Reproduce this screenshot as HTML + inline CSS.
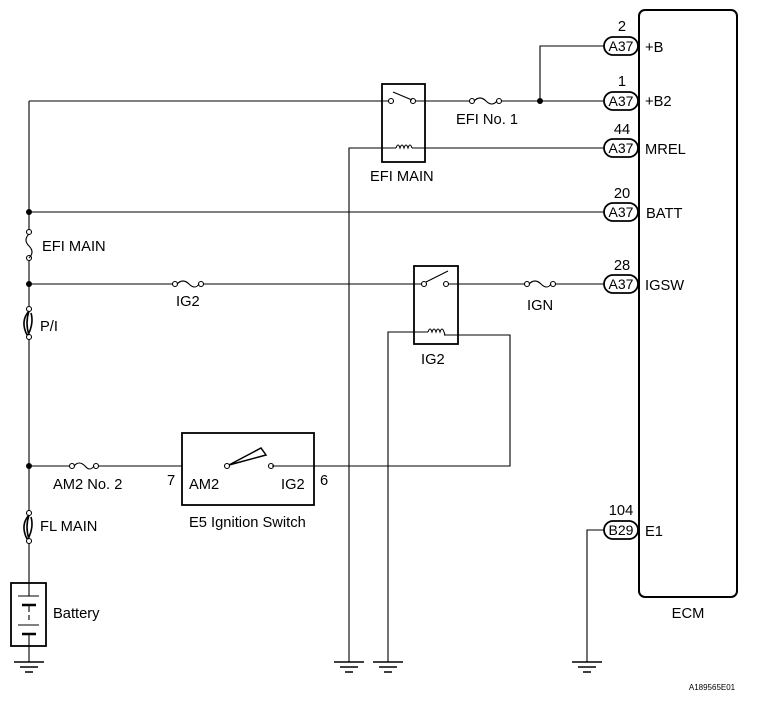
<!DOCTYPE html>
<html><head><meta charset="utf-8"><style>
html,body{margin:0;padding:0;background:#fff;}
svg{display:block;font-family:"Liberation Sans",Arial,sans-serif;}
</style></head><body>
<svg width="772" height="704" viewBox="0 0 772 704" xmlns="http://www.w3.org/2000/svg">
<g stroke="#000" stroke-width="1.1" fill="none">
<path d="M29 101 V232 M29 258 V309 M29 337 V512 M29 541 V583 M29 646 V662"/>
<path d="M29 101 H391"/>
<path d="M413 101 H470 M501 101 H604"/>
<path d="M540 101 V46 H604"/>
<rect x="382" y="84" width="43" height="78" stroke-width="1.8"/>
<circle cx="391" cy="101" r="2.5" fill="#fff"/>
<circle cx="413" cy="101" r="2.5" fill="#fff"/>
<path d="M393 92 L412 100"/>
<path d="M349 662 V148 H396 M412 148 H604"/>
<path d="M396 148 q2 -6 4 0 q2 -6 4 0 q2 -6 4 0 q2 -6 4 0" />
<circle cx="472" cy="101" r="2.5" fill="#fff"/><circle cx="499" cy="101" r="2.5" fill="#fff"/>
<path d="M474 101 q6 -6 12 0 q6 6 11 0"/>
<path d="M29 212 H604"/>
<circle cx="29" cy="232" r="2.5" fill="#fff"/><circle cx="29" cy="258" r="2.5" fill="#fff"/>
<path d="M29 234 q-6 6 0 12 q6 6 0 12"/>
<path d="M29 284 H173 M203 284 H424 M446 284 H525 M555 284 H604"/>
<circle cx="175" cy="284" r="2.5" fill="#fff"/><circle cx="201" cy="284" r="2.5" fill="#fff"/>
<path d="M177 284 q6 -6 12 0 q6 6 10 0"/>
<circle cx="527" cy="284" r="2.5" fill="#fff"/><circle cx="553" cy="284" r="2.5" fill="#fff"/>
<path d="M529 284 q6 -6 12 0 q6 6 10 0"/>
<rect x="414" y="266" width="44" height="78" stroke-width="1.8"/>
<circle cx="424" cy="284" r="2.5" fill="#fff"/><circle cx="446" cy="284" r="2.5" fill="#fff"/>
<path d="M426 282 L448 271"/>
<path d="M388 662 V332 H428 M444 335 H510 V466 H272"/>
<path d="M428 332 q2 -6 4 0 q2 -6 4 0 q2 -6 4 0 q2 -6 4 0 l1 3"/>
<circle cx="29" cy="309" r="2.5" fill="#fff"/><circle cx="29" cy="337" r="2.5" fill="#fff"/>
<path d="M29 311 q-9 10 -2 24 M29 311 q-4 12 0 24 M31 313 q3 10 -3 22" stroke-width="1.6"/>
<path d="M29 466 H70 M97 466 H182"/>
<circle cx="72" cy="466" r="2.5" fill="#fff"/><circle cx="96" cy="466" r="2.5" fill="#fff"/>
<path d="M74 466 q5 -6 11 0 q5 6 9 0"/>
<rect x="182" y="433" width="132" height="72" stroke-width="1.8"/>
<circle cx="227" cy="466" r="2.5" fill="#fff"/><circle cx="271" cy="466" r="2.5" fill="#fff"/>
<path d="M229 465 L261 448 L266 455 Z" stroke-width="1.5"/>
<path d="M314 466 H272"/>
<circle cx="29" cy="513" r="2.5" fill="#fff"/><circle cx="29" cy="541" r="2.5" fill="#fff"/>
<path d="M29 515 q-9 10 -2 24 M29 515 q-4 12 0 24 M31 517 q3 10 -3 22" stroke-width="1.6"/>
<rect x="11" y="583" width="35" height="63" stroke-width="1.8"/>
<path d="M29 583 V596 M18 596 H39 M29 605 V612 M29 615 V620 M18 625 H39 M29 634 V646" />
<path d="M22 605 H36 M22 634 H36" stroke-width="2.5"/>
<rect x="639" y="10" width="98" height="587" rx="6" stroke-width="2"/>
<path d="M604 530 H587 V662"/>
<g stroke-width="1.6">
<path d="M14 662 H44 M20 667 H38 M25 672 H33"/>
<path d="M334 662 H364 M340 667 H358 M345 672 H353"/>
<path d="M373 662 H403 M379 667 H397 M384 672 H392"/>
<path d="M572 662 H602 M578 667 H596 M583 672 H591"/>
</g>
<g stroke-width="1.8" fill="#fff">
<rect x="604" y="37" width="34" height="18" rx="9"/>
<rect x="604" y="92" width="34" height="18" rx="9"/>
<rect x="604" y="139" width="34" height="18" rx="9"/>
<rect x="604" y="203" width="34" height="18" rx="9"/>
<rect x="604" y="275" width="34" height="18" rx="9"/>
<rect x="604" y="521" width="34" height="18" rx="9"/>
</g>
</g>
<g fill="#000">
<circle cx="540" cy="101" r="3"/>
<circle cx="29" cy="212" r="3"/>
<circle cx="29" cy="284" r="3"/>
<circle cx="29" cy="466" r="3"/>
</g>
<g font-size="14.7" fill="#000">
<g font-size="14">
<text x="621" y="51" text-anchor="middle">A37</text>
<text x="621" y="106" text-anchor="middle">A37</text>
<text x="621" y="153" text-anchor="middle">A37</text>
<text x="621" y="217" text-anchor="middle">A37</text>
<text x="621" y="289" text-anchor="middle">A37</text>
<text x="621" y="535" text-anchor="middle">B29</text>
</g>
<text x="622" y="31" text-anchor="middle">2</text>
<text x="622" y="86" text-anchor="middle">1</text>
<text x="622" y="134" text-anchor="middle">44</text>
<text x="622" y="198" text-anchor="middle">20</text>
<text x="622" y="270" text-anchor="middle">28</text>
<text x="621" y="515" text-anchor="middle">104</text>
<text x="645" y="52">+B</text>
<text x="645" y="106">+B2</text>
<text x="645" y="154">MREL</text>
<text x="646" y="218">BATT</text>
<text x="645" y="290">IGSW</text>
<text x="645" y="536">E1</text>
<text x="688" y="618" text-anchor="middle">ECM</text>
<text x="456" y="124">EFI No. 1</text>
<text x="370" y="181">EFI MAIN</text>
<text x="527" y="310">IGN</text>
<text x="421" y="364">IG2</text>
<text x="176" y="306">IG2</text>
<text x="42" y="251">EFI MAIN</text>
<text x="40" y="331">P/I</text>
<text x="53" y="489">AM2 No. 2</text>
<text x="167" y="485">7</text>
<text x="189" y="489">AM2</text>
<text x="281" y="489">IG2</text>
<text x="320" y="485">6</text>
<text x="189" y="527">E5 Ignition Switch</text>
<text x="40" y="531">FL MAIN</text>
<text x="53" y="618">Battery</text>
</g>
<text x="712" y="690" font-size="8" text-anchor="middle">A189565E01</text>
</svg>
</body></html>
